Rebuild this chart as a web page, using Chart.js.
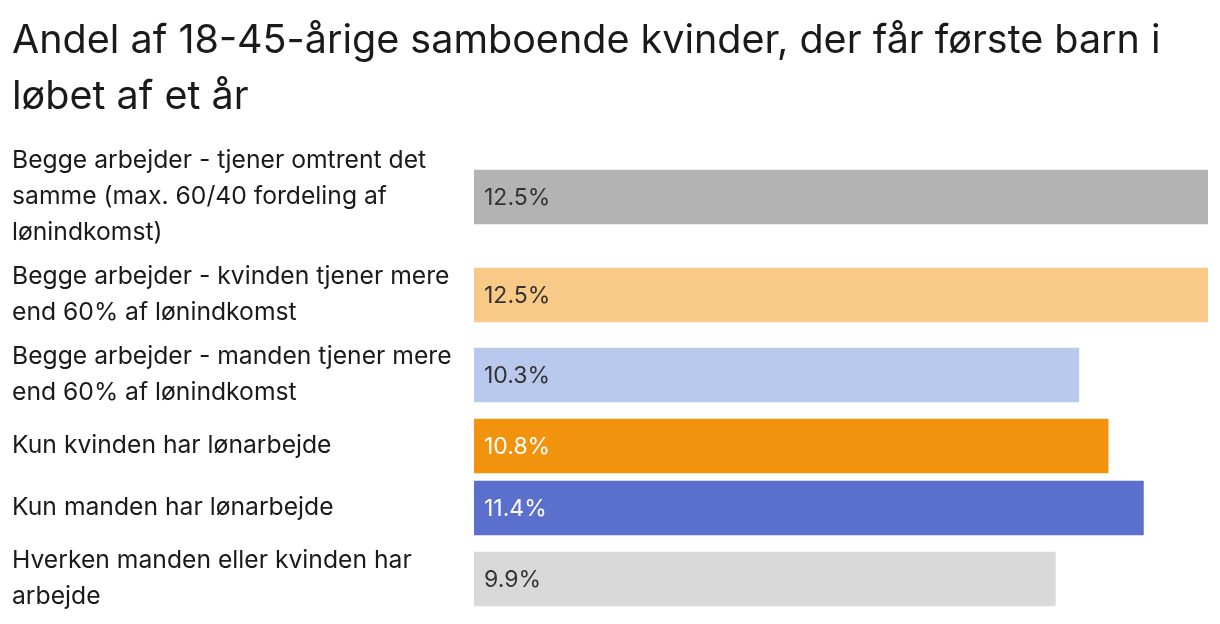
<!DOCTYPE html>
<html>
<head>
<meta charset="utf-8">
<script src="https://cdn.jsdelivr.net/npm/chart.js@4/dist/chart.umd.min.js"></script>
<style>
    html, body { margin: 0; padding: 0; background: #ffffff; }
    #wrap { width: 1220px; height: 624px; }
</style>
</head>
<body>
<div id="wrap"><canvas id="chart"></canvas></div>
<script>
// data
const titleLines = ["Andel af 18-45-årige samboende kvinder, der får første barn i", "løbet af et år"];
const categories = [
    ["Begge arbejder - tjener omtrent det", "samme (max. 60/40 fordeling af", "lønindkomst)"],
    ["Begge arbejder - kvinden tjener mere", "end 60% af lønindkomst"],
    ["Begge arbejder - manden tjener mere", "end 60% af lønindkomst"],
    ["Kun kvinden har lønarbejde"],
    ["Kun manden har lønarbejde"],
    ["Hverken manden eller kvinden har", "arbejde"]
];
const values = [12.5, 12.5, 10.3, 10.8, 11.4, 9.9];
const barColors = ["#b3b3b3", "#f8c987", "#b8c9ed", "#f2930e", "#5b6fcc", "#d9d9d9"];
const valueColors = ["#333333", "#333333", "#333333", "#ffffff", "#ffffff", "#333333"];

// row layout: each row is as tall as its label (or the bar), plus a gap
const LINE_H = 36, BAR_H = 54, GAP = 8;
let rowCenters = [];
let pos = 0;
categories.forEach((lines, i) => {
    let h = Math.max(lines.length * LINE_H, BAR_H);
    rowCenters.push(pos + h / 2);
    pos += h + (i < categories.length - 1 ? GAP : 0);
});
const totalHeight = pos;

const fontFamily = "Inter, 'Noto Sans', sans-serif";

// category labels, left aligned, one line every LINE_H px around the row center
const rowLabels = {
    id: 'rowLabels',
    afterDraw(chart) {
        const ctx = chart.ctx;
        const yScale = chart.scales.y;
        ctx.save();
        ctx.font = "24.7px " + fontFamily;
        ctx.fillStyle = "#1a1a1a";
        ctx.textBaseline = "middle";
        ctx.textAlign = "left";
        categories.forEach((lines, i) => {
            let yc = yScale.getPixelForValue(rowCenters[i]);
            lines.forEach((line, j) => {
                ctx.fillText(line, yScale.left, yc + (j - (lines.length - 1) / 2) * LINE_H);
            });
        });
        ctx.restore();
    }
};

const valueLabels = {
    id: 'valueLabels',
    afterDatasetsDraw(chart) {
        const ctx = chart.ctx;
        const meta = chart.getDatasetMeta(0);
        ctx.save();
        ctx.font = "23px " + fontFamily;
        ctx.textBaseline = "middle";
        ctx.textAlign = "left";
        meta.data.forEach((bar, i) => {
            ctx.fillStyle = valueColors[i];
            ctx.fillText(values[i].toFixed(1) + "%", bar.base + 10, bar.y + 1);
        });
        ctx.restore();
    }
};

new Chart(document.getElementById('chart'), {
    type: 'bar',
    data: {
        datasets: [{
            data: values.map((v, i) => ({ x: v, y: rowCenters[i] })),
            backgroundColor: barColors,
            barThickness: BAR_H,
            borderWidth: 0
        }]
    },
    options: {
        indexAxis: 'y',
        responsive: true,
        maintainAspectRatio: false,
        animation: false,
        events: [],
        layout: { padding: { left: 12, right: 12, top: 13, bottom: 9 } },
        scales: {
            x: {
                type: 'linear',
                min: 0,
                max: 12.5,
                display: false
            },
            y: {
                type: 'linear',
                reverse: true,
                offset: false,
                min: 0,
                max: totalHeight,
                afterFit(scale) {
                    scale.width = 462;
                },
                grid: { display: false },
                border: { display: false },
                ticks: { display: false }
            }
        },
        plugins: {
            legend: { display: false },
            tooltip: { enabled: false },
            title: {
                display: true,
                text: titleLines,
                align: 'start',
                color: "#1a1a1a",
                font: { family: fontFamily, size: 39.5, weight: 'normal', lineHeight: 56 / 39.5 },
                padding: { top: 0, bottom: 18 }
            }
        }
    },
    plugins: [rowLabels, valueLabels]
});
</script>
</body>
</html>
